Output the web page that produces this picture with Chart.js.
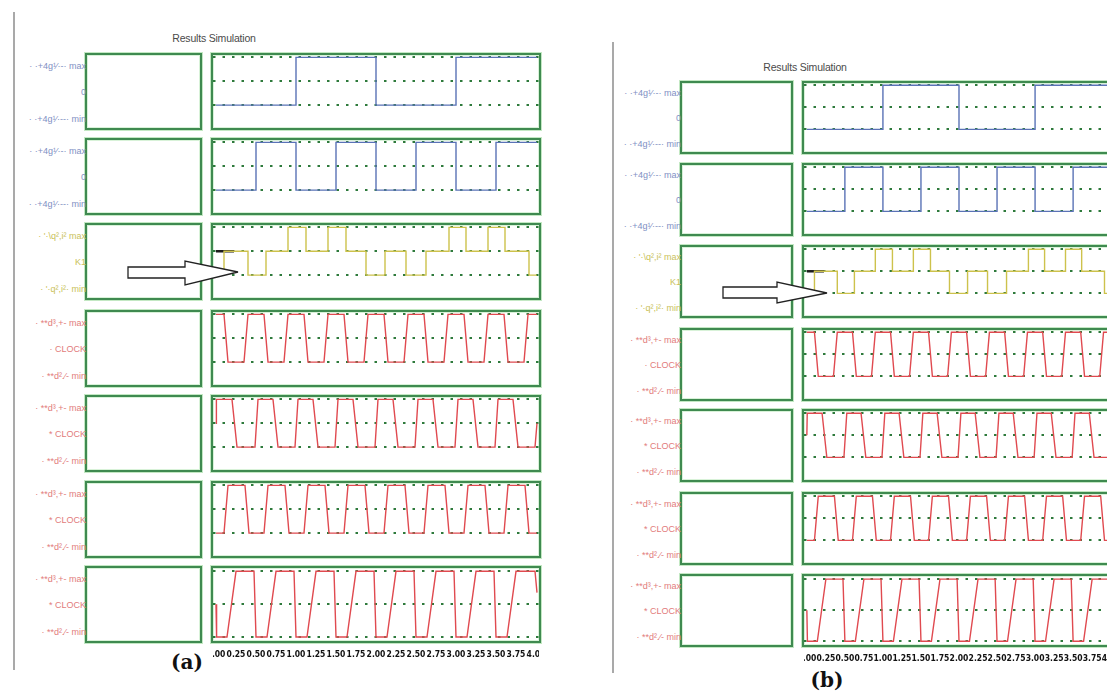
<!DOCTYPE html>
<html>
<head>
<meta charset="utf-8">
<script src="https://cdn.jsdelivr.net/npm/chart.js@4.4.1/dist/chart.umd.min.js"></script>
<style>
body { margin: 0; width: 1107px; height: 691px; overflow: hidden; background: #fff; position: relative; font-family: "Liberation Sans", Arial, sans-serif; }
.vline { position: absolute; width: 2px; background: #a9a9a9; }
.title { position: absolute; font-size: 10.5px; color: #4a4a4a; white-space: nowrap; transform: translate(-50%, -50%); letter-spacing: -0.2px; }
.box { position: absolute; box-sizing: border-box; border: 2px solid #3f8a50; box-shadow: 0 0 0 1px #c3e8c3, inset 0 0 0 1px #d8f2d8; background: #fff; }
.lbl { position: absolute; font-size: 9px; white-space: nowrap; transform: translate(-100%, -50%); z-index: 2; }
.tag { position: absolute; font-family: "DejaVu Serif", serif; font-weight: bold; font-size: 20px; color: #111; transform: translate(-50%, -50%); }
.box canvas { position: absolute; left: 0; top: 0; }
svg { position: absolute; left: 0; top: 0; z-index: 3; }
</style>
</head>
<body>
<script>
// Waveforms (time in clock half-periods, level -1 = min, 0 = mid, 1 = max)
const timeQ1 = [0, 4, 8, 12, 16.05];
const levelQ1 = [-1, 1, -1, 1, 1];

const timeQ0 = [0, 2, 4, 6, 8, 10, 12, 14, 16.05];
const levelQ0 = [-1, 1, -1, 1, -1, 1, -1, 1, 1];

const timeSum = [0, 0.4, 1.6, 2.5, 3.6, 4.5, 5.6, 6.5, 7.5, 8.45, 9.5, 10.5, 11.65, 12.5, 13.6, 14.45, 15.65, 16.05];
const levelSum = [-1, 0, -1, 0, 1, 0, 1, 0, -1, 0, -1, 0, 1, 0, 1, 0, -1, -1];

const timeMark = [0, 0.9];
const levelMark = [0, 0];

const timeClkA = [0, 0.4, 0.6, 1.4, 1.6, 2.4, 2.6, 3.4, 3.6, 4.4, 4.6, 5.4, 5.6, 6.4, 6.6, 7.4, 7.6, 8.4, 8.6, 9.4, 9.6, 10.4, 10.6, 11.4, 11.6, 12.4, 12.6, 13.4, 13.6, 14.4, 14.6, 15.4, 15.6, 16.05];
const levelClkA = [1, 1, -1, -1, 1, 1, -1, -1, 1, 1, -1, -1, 1, 1, -1, -1, 1, 1, -1, -1, 1, 1, -1, -1, 1, 1, -1, -1, 1, 1, -1, -1, 1, 1];

const timeClkB = [0, 0.02, 0.8, 1.05, 1.95, 2.1, 2.85, 3.1, 3.95, 4.1, 4.85, 5.1, 5.95, 6.1, 6.85, 7.1, 7.95, 8.1, 8.85, 9.1, 9.95, 10.1, 10.85, 11.1, 11.95, 12.1, 12.85, 13.1, 13.95, 14.1, 14.85, 15.1, 15.95, 16.05];
const levelClkB = [0, 1, 1, -1, -1, 1, 1, -1, -1, 1, 1, -1, -1, 1, 1, -1, -1, 1, 1, -1, -1, 1, 1, -1, -1, 1, 1, -1, -1, 1, 1, -1, -1, 0];

const timeClkC = [0, 0.4, 0.6, 1.45, 1.65, 2.4, 2.6, 3.45, 3.65, 4.4, 4.6, 5.45, 5.65, 6.4, 6.6, 7.45, 7.65, 8.4, 8.6, 9.45, 9.65, 10.4, 10.6, 11.45, 11.65, 12.4, 12.6, 13.45, 13.65, 14.4, 14.6, 15.45, 15.65, 16.05];
const levelClkC = [-1, -1, 1, 1, -1, -1, 1, 1, -1, -1, 1, 1, -1, -1, 1, 1, -1, -1, 1, 1, -1, -1, 1, 1, -1, -1, 1, 1, -1, -1, 1, 1, -1, -1];

const timeClkD = [0, 0.03, 0.55, 1.0, 1.9, 2.0, 2.55, 3.0, 3.9, 4.0, 4.55, 5.0, 5.9, 6.0, 6.55, 7.0, 7.9, 8.0, 8.55, 9.0, 9.9, 10.0, 10.55, 11.0, 11.9, 12.0, 12.55, 13.0, 13.9, 14.0, 14.55, 15.0, 15.95, 16.05];
const levelClkD = [0, -1, -1, 1, 1, -1, -1, 1, 1, -1, -1, 1, 1, -1, -1, 1, 1, -1, -1, 1, 1, -1, -1, 1, 1, -1, -1, 1, 1, -1, -1, 1, 1, 0.35];

// Tick labels of the time axis
const tickValues = [0, 1, 2, 3, 4, 5, 6, 7, 8, 9, 10, 11, 12, 13, 14, 15, 16];
const tickLabels = ["0.00", "0.25", "0.50", "0.75", "1.00", "1.25", "1.50", "1.75", "2.00", "2.25", "2.50", "2.75", "3.00", "3.25", "3.50", "3.75", "4.00"];
const levelValues = [-1, 0, 1];

// Row labels (max / middle / min)
const labelsQ = ["· ·+4g¹⁄·-·  max", "0", "· ·+4g¹⁄·--·  min"];
const labelsSum = ["· '·\\q²,i²  max", "K1", "· '·q²,i²·  min"];
const labelsClkA = ["· **d³,+-  max", "· CLOCK", "· **d².⁄-  min"];
const labelsClk = ["· **d³,+-  max", "* CLOCK", "· **d².⁄-  min"];

const BLUE = "#5a73b6", YELLOW = "#cdc24c", RED = "#e04a50";

const rows = [
    { waves: [[timeQ1, levelQ1, BLUE, true]], labels: labelsQ, labelColor: "#7f90c4" },
    { waves: [[timeQ0, levelQ0, BLUE, true]], labels: labelsQ, labelColor: "#7f90c4" },
    { waves: [[timeSum, levelSum, YELLOW, true], [timeMark, levelMark, "#1c1c1c", false]], labels: labelsSum, labelColor: "#c9bf5a" },
    { waves: [[timeClkA, levelClkA, RED, false]], labels: labelsClkA, labelColor: "#e27c7c" },
    { waves: [[timeClkB, levelClkB, RED, false]], labels: labelsClk, labelColor: "#e27c7c" },
    { waves: [[timeClkC, levelClkC, RED, false]], labels: labelsClk, labelColor: "#e27c7c" },
    { waves: [[timeClkD, levelClkD, RED, false]], labels: labelsClk, labelColor: "#e27c7c" }
];

const panels = [
    { lineX: 13, lineTop: 12, lineBottom: 670, titleX: 214, titleY: 38, leftX: 85, leftW: 117, plotX: 211, plotW: 330,
      tops: [53, 138, 223, 310, 395, 481, 566], rowH: 77, tag: "(a)", tagX: 187, tagY: 662,
      arrow: "128,267 185,267 185,261 238,272 185,285 185,278 128,278" },
    { lineX: 612, lineTop: 42, lineBottom: 673, titleX: 805, titleY: 67, leftX: 680, leftW: 113, plotX: 802, plotW: 314,
      tops: [81, 163, 245, 328, 409, 492, 574], rowH: 73, tag: "(b)", tagX: 827, tagY: 680,
      arrow: "723,287 777,287 777,282 827,293 777,303 777,298 723,298" }
];

function el(cls, css, text) {
    const d = document.createElement("div");
    d.className = cls;
    Object.assign(d.style, css);
    if (text !== undefined) d.textContent = text;
    document.body.appendChild(d);
    return d;
}

function makePlot(box, w, h, row, withAxis) {
    const canvas = document.createElement("canvas");
    const ch = h + (withAxis ? 20 : 0);
    canvas.width = w; canvas.height = ch;
    canvas.style.width = w + "px"; canvas.style.height = ch + "px";
    box.appendChild(canvas);

    const datasets = row.waves.map(([times, levels, color, stepped]) => ({
        data: times.map((t, i) => ({ x: t, y: levels[i] })),
        borderColor: color,
        borderWidth: color === "#1c1c1c" ? 2.5 : 1.4,
        stepped: stepped,
        pointRadius: 0,
        tension: 0
    }));

    new Chart(canvas, {
        type: "line",
        data: { datasets },
        options: {
            responsive: false,
            animation: false,
            events: [],
            layout: { padding: 0, autoPadding: false },
            plugins: { legend: { display: false }, tooltip: { enabled: false } },
            scales: {
                x: {
                    type: "linear", min: -0.15, max: 16.15, display: withAxis,
                    grid: { display: false, drawTicks: false },
                    border: { display: false },
                    afterBuildTicks: s => { s.ticks = tickValues.map(v => ({ value: v })); },
                    afterFit: s => { s.height = 20; s.paddingLeft = 0; s.paddingRight = 0; },
                    ticks: {
                        autoSkip: false, maxRotation: 0, minRotation: 0, padding: 9, color: "#111",
                        font: { family: "DejaVu Sans Condensed", weight: "bold", size: 8.5 },
                        callback: (v, i) => tickLabels[i]
                    }
                },
                y: {
                    min: -1.12, max: 1.1,
                    grid: { color: "#2e7a3c", lineWidth: 2, drawTicks: false },
                    border: { display: false, dash: [2.5, 7] },
                    ticks: { display: false },
                    afterBuildTicks: s => { s.ticks = levelValues.map(v => ({ value: v })); },
                    afterFit: s => { s.width = 0; }
                }
            }
        }
    });
}

function buildPanel(p) {
    el("vline", { left: p.lineX + "px", top: p.lineTop + "px", height: (p.lineBottom - p.lineTop) + "px" });
    el("title", { left: p.titleX + "px", top: p.titleY + "px" }, "Results Simulation");

    p.tops.forEach((top, r) => {
        const row = rows[r];
        el("box", { left: p.leftX + "px", top: top + "px", width: p.leftW + "px", height: p.rowH + "px" });
        const fr = [0.17, 0.5, 0.86];
        row.labels.forEach((txt, k) => {
            el("lbl", { left: (p.leftX + 1) + "px", top: (top + p.rowH * fr[k]) + "px", color: row.labelColor }, txt);
        });
        const box = el("box", { left: p.plotX + "px", top: top + "px", width: p.plotW + "px", height: p.rowH + "px" });
        makePlot(box, p.plotW - 4, p.rowH - 4, row, r === p.tops.length - 1);
    });

    el("tag", { left: p.tagX + "px", top: p.tagY + "px" }, p.tag);
}

panels.forEach(buildPanel);

// hand-drawn arrows pointing at the start of the third trace
const svgNS = "http://www.w3.org/2000/svg";
const svg = document.createElementNS(svgNS, "svg");
svg.setAttribute("width", "1107");
svg.setAttribute("height", "691");
panels.forEach(p => {
    const poly = document.createElementNS(svgNS, "polygon");
    poly.setAttribute("points", p.arrow);
    poly.setAttribute("fill", "#fff");
    poly.setAttribute("stroke", "#222");
    poly.setAttribute("stroke-width", "1.3");
    svg.appendChild(poly);
});
document.body.appendChild(svg);
</script>
</body>
</html>
